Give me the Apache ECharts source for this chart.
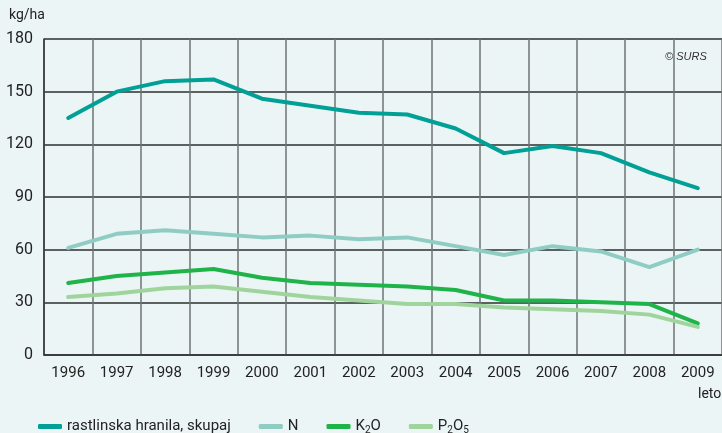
<!DOCTYPE html>
<html>
<head>
<meta charset="utf-8">
<script src="https://cdn.jsdelivr.net/npm/echarts@6/dist/echarts.min.js"></script>
<style>
    html, body { margin: 0; padding: 0; background: #ecf5f5; }
    #chart { width: 722px; height: 433px; }
</style>
</head>
<body>
<div id="chart"></div>
<script>
// leta
var years = ['1996', '1997', '1998', '1999', '2000', '2001', '2002', '2003', '2004', '2005', '2006', '2007', '2008', '2009'];
var yTicks = [0, 30, 60, 90, 120, 150, 180];

// kg/ha
var skupaj = [135, 150, 156, 157, 146, 142, 138, 137, 129, 115, 119, 115, 104, 95];
var dusik = [61, 69, 71, 69, 67, 68, 66, 67, 62, 57, 62, 59, 50, 60];
var kalij = [41, 45, 47, 49, 44, 41, 40, 39, 37, 31, 31, 30, 29, 18];
var fosfor = [33, 35, 38, 39, 36, 33, 31, 29, 29, 27, 26, 25, 23, 16];

var legendNames = ['rastlinska hranila, skupaj', 'N', 'K2O', 'P2O5'];

var font = 'Roboto';

var myChart = echarts.init(document.getElementById('chart'));

// naredi eno serijo
function makeLine(name, data, color) {
    return {
        name: name,
        type: 'line',
        data: data,
        symbol: 'none',
        smooth: false,
        lineStyle: {
            width: 4,
            color: color,
            cap: 'round',
            join: 'round'
        },
        itemStyle: {
            color: color
        }
    };
}

var option = {
    backgroundColor: '#ecf5f5',
    animation: false,
    textStyle: {
        fontFamily: font
    },
    grid: {
        left: 44,
        right: 0,
        top: 39,
        bottom: 78,
        containLabel: false
    },
    legend: {
        left: 33,
        top: 414,
        itemWidth: 24,
        itemHeight: 5,
        itemGap: 28,
        icon: 'roundRect',
        data: legendNames,
        formatter: function (name) {
            if (name === 'K2O') {
                return '{t|K}{s|2}{t|O}';
            }
            if (name === 'P2O5') {
                return '{t|P}{s|2}{t|O}{s|5}';
            }
            return '{t|' + name + '}';
        },
        textStyle: {
            color: '#222',
            rich: {
                t: { fontSize: 15, fontFamily: font, color: '#222' },
                s: { fontSize: 10, fontFamily: font, color: '#222', padding: [7, 0, 0, 0] }
            }
        }
    },
    xAxis: {
        type: 'category',
        data: years,
        boundaryGap: true,
        axisLine: {
            show: true,
            lineStyle: { color: '#333', width: 1.5 }
        },
        axisTick: { show: false },
        axisLabel: {
            color: '#222',
            fontSize: 15,
            fontFamily: font,
            margin: 11,
            interval: 0
        },
        splitLine: {
            show: true,
            interval: 0,
            lineStyle: { color: '#6f7373', width: 1.5 }
        }
    },
    yAxis: {
        type: 'value',
        min: yTicks[0],
        max: yTicks[yTicks.length - 1],
        interval: 30,
        axisLine: {
            show: true,
            lineStyle: { color: '#333', width: 1.5 }
        },
        axisTick: { show: false },
        axisLabel: {
            color: '#222',
            fontSize: 16,
            fontFamily: font,
            margin: 11
        },
        splitLine: {
            show: true,
            lineStyle: { color: '#2b2e2e', width: 1.5 }
        }
    },
    graphic: [
        {
            type: 'text',
            left: 9,
            top: 8,
            style: { text: 'kg/ha', fontSize: 14, fontFamily: font, fill: '#222' }
        },
        {
            type: 'text',
            left: 698,
            top: 387,
            style: { text: 'leto', fontSize: 14, fontFamily: font, fill: '#222' }
        },
        {
            type: 'text',
            left: 665,
            top: 51,
            style: { text: '© SURS', fontSize: 11, fontStyle: 'italic', fontFamily: 'Liberation Sans', fill: '#333' }
        }
    ],
    series: [
        makeLine(legendNames[0], skupaj, '#00a096'),
        makeLine(legendNames[1], dusik, '#8fcdc4'),
        makeLine(legendNames[2], kalij, '#1fb44a'),
        makeLine(legendNames[3], fosfor, '#9fd59c')
    ]
};

myChart.setOption(option);
</script>
</body>
</html>
